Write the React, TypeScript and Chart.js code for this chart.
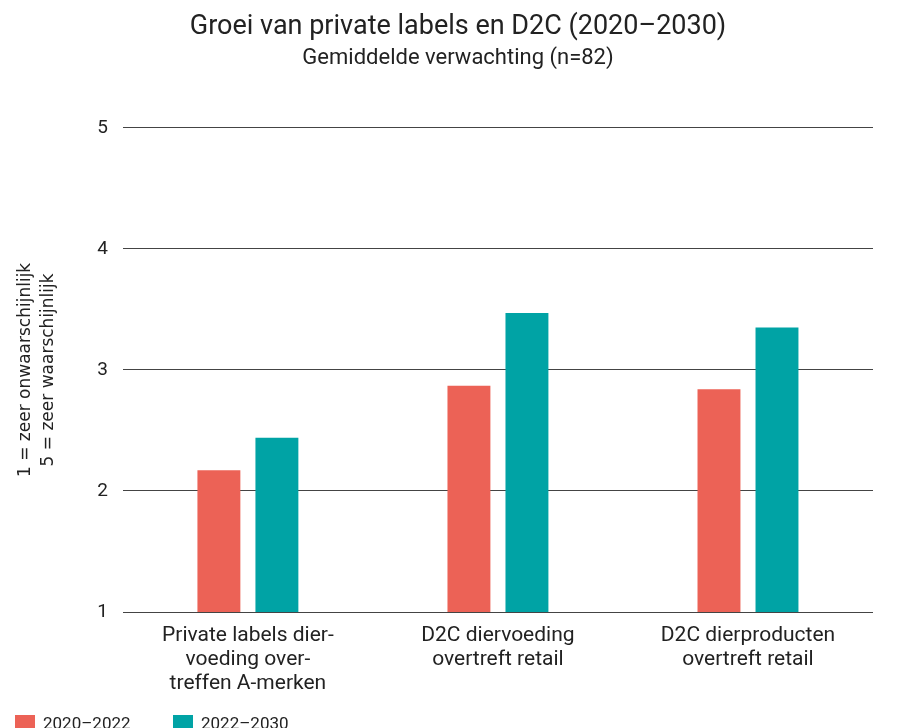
import React, { useEffect, useRef } from "react";
import { Chart, registerables } from "chart.js";

Chart.register(...registerables);

const titleText = "Groei van private labels en D2C (2020–2030)";
const subtitleText = "Gemiddelde verwachting (n=82)";
const yAxisTitle = ["1 = zeer onwaarschijnlijk", "5 = zeer waarschijnlijk"];
const categories = [
  ["Private labels dier-", "voeding over-", "treffen A-merken"],
  ["D2C diervoeding", "overtreft retail"],
  ["D2C dierproducten", "overtreft retail"],
];
const seriesNames = ["2020–2022", "2022–2030"];
const values2020_2022 = [2.17, 2.87, 2.84];
const values2022_2030 = [2.44, 3.47, 3.35];
const yTicks = [1, 2, 3, 4, 5];
const seriesColors = ["#EC6256", "#00A3A5"];

const FONT = "Roboto";
const TEXT = "#222222";

const legendPlugin = {
  id: "customLegend",
  afterDraw(chart: any) {
    const ctx = chart.ctx;
    ctx.save();
    ctx.font = `17px ${FONT}`;
    ctx.textBaseline = "alphabetic";
    ctx.textAlign = "left";
    let x = 7;
    const top = 707;
    chart.data.datasets.forEach((ds: any) => {
      ctx.fillStyle = ds.backgroundColor;
      ctx.fillRect(x, top, 20, 20);
      ctx.fillStyle = TEXT;
      ctx.fillText(ds.label, x + 28, top + 14);
      x += 158;
    });
    ctx.restore();
  },
};

export default function App() {
  const ref = useRef<HTMLCanvasElement | null>(null);

  useEffect(() => {
    document.body.style.overflow = "hidden";
    const canvas = ref.current;
    if (!canvas) return;
    const chart = new Chart(canvas, {
      type: "bar",
      data: {
        labels: categories,
        datasets: [
          {
            label: seriesNames[0],
            data: values2020_2022,
            backgroundColor: seriesColors[0],
            categoryPercentage: 0.464,
            barPercentage: 0.74,
          },
          {
            label: seriesNames[1],
            data: values2022_2030,
            backgroundColor: seriesColors[1],
            categoryPercentage: 0.464,
            barPercentage: 0.74,
          },
        ],
      },
      options: {
        responsive: false,
        animation: false,
        layout: { padding: { left: 7, right: 7, top: 0, bottom: 28 } },
        plugins: {
          legend: { display: false },
          tooltip: { enabled: false },
          title: {
            display: true,
            text: titleText,
            color: TEXT,
            font: { family: FONT, size: 27, weight: "normal", lineHeight: 1.2 },
            padding: { top: 3, bottom: 2 },
          },
          subtitle: {
            display: true,
            text: subtitleText,
            color: TEXT,
            font: { family: FONT, size: 22, weight: "normal", lineHeight: 1.2 },
            padding: { top: 0, bottom: 56 },
          },
        },
        scales: {
          x: {
            grid: { display: false, drawTicks: false },
            border: { display: false },
            ticks: {
              color: TEXT,
              font: { family: FONT, size: 21, lineHeight: 24 / 21 },
              padding: 12,
              maxRotation: 0,
              autoSkip: false,
            },
          },
          y: {
            min: yTicks[0],
            max: yTicks[yTicks.length - 1],
            afterBuildTicks: (scale: any) => {
              scale.ticks = yTicks.map((v) => ({ value: v }));
            },
            border: { display: false },
            grid: { color: "#444444", lineWidth: 1, drawTicks: false },
            ticks: {
              color: TEXT,
              font: { family: FONT, size: 19 },
              padding: 15,
            },
            title: {
              display: true,
              text: yAxisTitle,
              color: TEXT,
              font: { family: "DejaVu Sans", size: 17, lineHeight: 1.3 },
              padding: { top: 0, bottom: 23 },
            },
          },
          yRightSpace: {
            position: "right",
            display: true,
            grid: { display: false, drawTicks: false },
            border: { display: false },
            ticks: { display: false },
            afterFit: (scale: any) => {
              scale.width = 28;
            },
          },
        },
      },
      plugins: [legendPlugin],
    });
    return () => chart.destroy();
  }, []);

  return (
    <div style={{ width: 900, height: 728 }}>
      <canvas ref={ref} width={900} height={728} style={{ width: 900, height: 728 }} />
    </div>
  );
}
